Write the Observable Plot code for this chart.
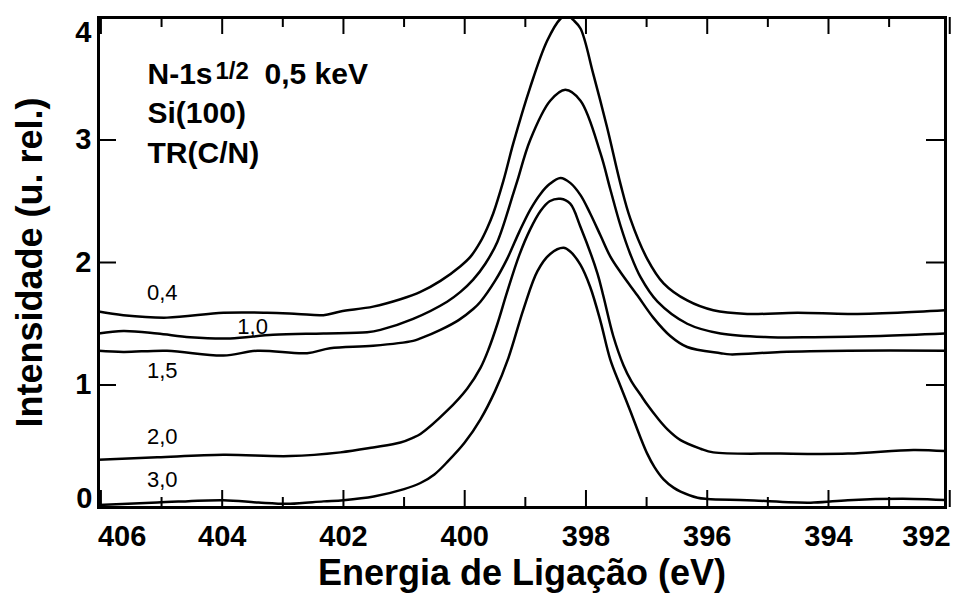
<!DOCTYPE html>
<html>
<head>
<meta charset="utf-8">
<script src="https://cdn.jsdelivr.net/npm/d3@7"></script>
<script src="https://cdn.jsdelivr.net/npm/@observablehq/plot@0.6"></script>
<style>
  html, body { margin: 0; padding: 0; background: #fff; }
  #chart { width: 956px; height: 595px; }
</style>
</head>
<body>
<div id="chart"></div>
<script>
// ---- data: [binding energy (eV), intensity (rel. units)] ----
const curve04 = [
  [406.04,1.60],[405.63,1.57],[404.91,1.55],[403.98,1.59],[403.26,1.59],[402.76,1.58],
  [402.33,1.57],[402.05,1.60],[401.51,1.64],[401.06,1.70],[400.73,1.76],[400.40,1.85],
  [400.07,1.97],[399.90,2.05],[399.74,2.17],[399.63,2.28],[399.53,2.40],[399.36,2.67],
  [399.20,2.97],[398.92,3.43],
  [398.64,3.81],[398.42,3.99],[398.31,4.02],[398.21,3.98],[398.09,3.91],[397.88,3.54],
  [397.65,3.10],[397.43,2.64],[397.27,2.36],[396.99,2.03],[396.72,1.83],[396.33,1.69],
  [395.90,1.61],[395.34,1.58],[394.51,1.59],[393.68,1.58],[392.86,1.59],[392.07,1.61]
];
const curve10 = [
  [406.04,1.42],[405.63,1.44],[405.07,1.42],[404.53,1.39],[403.87,1.38],[403.16,1.41],
  [402.33,1.42],[401.61,1.43],[401.39,1.45],[400.85,1.54],[400.29,1.68],[400.07,1.76],
  [399.86,1.86],[399.66,1.99],[399.46,2.17],[399.20,2.56],[399.13,2.67],[398.92,3.00],
  [398.59,3.32],
  [398.34,3.41],[398.09,3.32],[397.76,2.89],[397.60,2.60],[397.43,2.30],[397.27,2.07],
  [397.10,1.88],[396.82,1.68],[396.33,1.50],[395.78,1.42],[394.96,1.39],[394.24,1.39],
  [393.14,1.40],[392.07,1.42]
];
const curve15 = [
  [406.04,1.28],[405.63,1.27],[404.91,1.28],[403.98,1.24],[403.42,1.28],[402.60,1.26],
  [402.22,1.30],[401.51,1.32],[400.85,1.36],[400.73,1.38],[400.40,1.45],[400.10,1.53],
  [399.86,1.62],[399.74,1.68],[399.50,1.85],[399.30,2.03],[399.10,2.25],[398.92,2.43],
  [398.75,2.56],[398.60,2.64],[398.42,2.69],[398.26,2.65],
  [398.09,2.55],[397.93,2.40],[397.76,2.22],[397.60,2.05],[397.43,1.92],[397.15,1.73],
  [396.89,1.55],[396.61,1.40],[396.33,1.31],[395.78,1.26],[395.62,1.25],[394.79,1.27],
  [393.68,1.28],[392.07,1.28]
];
const curve20 = [
  [406.04,0.39],[405.07,0.41],[403.98,0.43],[402.88,0.42],[402.05,0.45],[401.51,0.49],
  [401.06,0.53],[400.85,0.57],[400.73,0.60],[400.29,0.79],[399.96,0.97],[399.74,1.14],
  [399.60,1.30],[399.46,1.50],[399.30,1.76],[399.10,2.06],[398.92,2.27],[398.75,2.42],
  [398.60,2.50],[398.42,2.52],[398.26,2.48],
  [398.09,2.29],[397.81,1.91],[397.71,1.72],[397.55,1.40],[397.38,1.16],[397.25,1.03],
  [397.10,0.92],[396.99,0.84],[396.82,0.73],[396.66,0.64],[396.44,0.55],[396.11,0.48],
  [395.90,0.45],[394.79,0.44],[393.68,0.44],[392.60,0.47],[392.07,0.46]
];
const curve30 = [
  [406.04,0.02],[405.07,0.04],[403.98,0.06],[403.40,0.04],[402.88,0.03],[402.33,0.05],
  [402.00,0.06],[401.50,0.09],[401.00,0.15],[400.73,0.20],[400.50,0.27],[400.29,0.37],
  [400.00,0.53],[399.74,0.72],[399.50,0.95],[399.28,1.22],[399.03,1.62],[398.80,1.93],
  [398.59,2.07],[398.37,2.12],[398.26,2.09],[398.09,1.98],[397.93,1.80],[397.76,1.52],
  [397.60,1.21],[397.43,0.99],[397.27,0.79],[397.10,0.57],[396.99,0.44],[396.87,0.33],
  [396.72,0.23],[396.55,0.16],[396.44,0.13],[396.16,0.08],[396.00,0.07],[395.34,0.06],
  [394.24,0.04],[393.68,0.06],[392.60,0.07],[392.07,0.06]
];
const curveNames = ["0,4", "1,0", "1,5", "2,0", "3,0"];
// label anchor positions (energy, intensity) for the curve labels
const labelEnergy = [405.24, 403.75, 405.24, 405.24, 405.24];
const labelIntensity = [1.69, 1.42, 1.06, 0.52, 0.17];

const xMajorTicks = [406, 404, 402, 400, 398, 396, 394, 392];
const xMinorTicks = [405, 403, 401, 399, 397, 395, 393];
const yTicks = [0, 1, 2, 3, 4];
const annotation = ["N-1s", "1/2", "0,5 keV", "Si(100)", "TR(C/N)"];
const xTitle = "Energia de Ligação (eV)";
const yTitle = "Intensidade (u. rel.)";

// ---- build ----
const curves = [curve04, curve10, curve15, curve20, curve30];
const lineRows = curves.flatMap((c, i) => c.map(([E, I]) => ({E, I, s: curveNames[i]})));
const labelRows = curveNames.map((t, i) => ({t, E: labelEnergy[i], I: labelIntensity[i]}));

const W = 956, H = 595, ML = 98, MR = 11, MT = 17, MB = 88;
const innerW = W - ML - MR, innerH = H - MT - MB;
const font = "'Liberation Sans', Arial, Helvetica, sans-serif";
const tickFont = {fontSize: 29, fontWeight: "bold", tickFormat: d => String(d)};

const chart = Plot.plot({
  width: W, height: H,
  marginLeft: ML, marginRight: MR, marginTop: MT, marginBottom: MB,
  style: {fontFamily: font, background: "#fff", color: "#000", overflow: "visible"},
  x: {domain: [406.04, 392.07]},
  y: {domain: [0, 4]},
  marks: [
    Plot.line(lineRows, {x: "E", y: "I", z: "s", stroke: "#000", strokeWidth: 2.5, curve: "catmull-rom", clip: true}),
    // inward ticks
    Plot.tickX(xMajorTicks, {x: d => d, insetTop: innerH - 17, stroke: "#000", strokeWidth: 2}),
    Plot.tickX(xMinorTicks, {x: d => d, insetTop: innerH - 10, stroke: "#000", strokeWidth: 2}),
    Plot.tickX(xMajorTicks, {x: d => d, insetBottom: innerH - 17, stroke: "#000", strokeWidth: 2}),
    Plot.tickX(xMinorTicks, {x: d => d, insetBottom: innerH - 10, stroke: "#000", strokeWidth: 2}),
    Plot.tickY(yTicks, {y: d => d, insetRight: innerW - 18, stroke: "#000", strokeWidth: 2}),
    Plot.tickY(yTicks, {y: d => d, insetLeft: innerW - 19, stroke: "#000", strokeWidth: 2}),
    Plot.frame({stroke: "#000", strokeWidth: 3}),
    // tick labels
    Plot.axisX(xMajorTicks.slice(1, -1), {anchor: "bottom", tickSize: 0, tickPadding: 18, label: null, ...tickFont}),
    Plot.axisX([xMajorTicks[0]], {anchor: "bottom", tickSize: 0, tickPadding: 18, label: null, textAnchor: "start", dx: -3, ...tickFont}),
    Plot.axisX([xMajorTicks[xMajorTicks.length - 1]], {anchor: "bottom", tickSize: 0, tickPadding: 18, label: null, textAnchor: "end", dx: 1, ...tickFont}),
    Plot.axisY(yTicks.slice(1, -1), {anchor: "left", tickSize: 0, tickPadding: 7, label: null, ...tickFont}),
    Plot.axisY([yTicks[0]], {anchor: "left", tickSize: 0, tickPadding: 6, label: null, dy: -9, ...tickFont}),
    Plot.axisY([yTicks[yTicks.length - 1]], {anchor: "left", tickSize: 0, tickPadding: 7, label: null, dy: 15, ...tickFont}),
    // axis titles
    Plot.text([xTitle], {text: d => d, frameAnchor: "bottom", dy: 66, textAnchor: "middle", lineAnchor: "middle", fontSize: 36, fontWeight: "bold"}),
    Plot.text([yTitle], {text: d => d, frameAnchor: "left", dx: -68, rotate: -90, textAnchor: "middle", lineAnchor: "middle", fontSize: 36, fontWeight: "bold"}),
    // annotation
    Plot.text([annotation[0]], {text: d => d, frameAnchor: "top-left", dx: 49, dy: 66, textAnchor: "start", lineAnchor: "bottom", fontSize: 30, fontWeight: "bold"}),
    Plot.text([annotation[1]], {text: d => d, frameAnchor: "top-left", dx: 117, dy: 61, textAnchor: "start", lineAnchor: "bottom", fontSize: 24, fontWeight: "bold"}),
    Plot.text([annotation[2]], {text: d => d, frameAnchor: "top-left", dx: 166, dy: 66, textAnchor: "start", lineAnchor: "bottom", fontSize: 30, fontWeight: "bold"}),
    Plot.text([annotation[3]], {text: d => d, frameAnchor: "top-left", dx: 49, dy: 105, textAnchor: "start", lineAnchor: "bottom", fontSize: 30, fontWeight: "bold"}),
    Plot.text([annotation[4]], {text: d => d, frameAnchor: "top-left", dx: 49, dy: 145, textAnchor: "start", lineAnchor: "bottom", fontSize: 30, fontWeight: "bold"}),
    // curve labels
    Plot.text(labelRows, {x: "E", y: "I", text: "t", textAnchor: "start", lineAnchor: "bottom", fontSize: 22})
  ]
});
document.getElementById("chart").appendChild(chart);
</script>
</body>
</html>
